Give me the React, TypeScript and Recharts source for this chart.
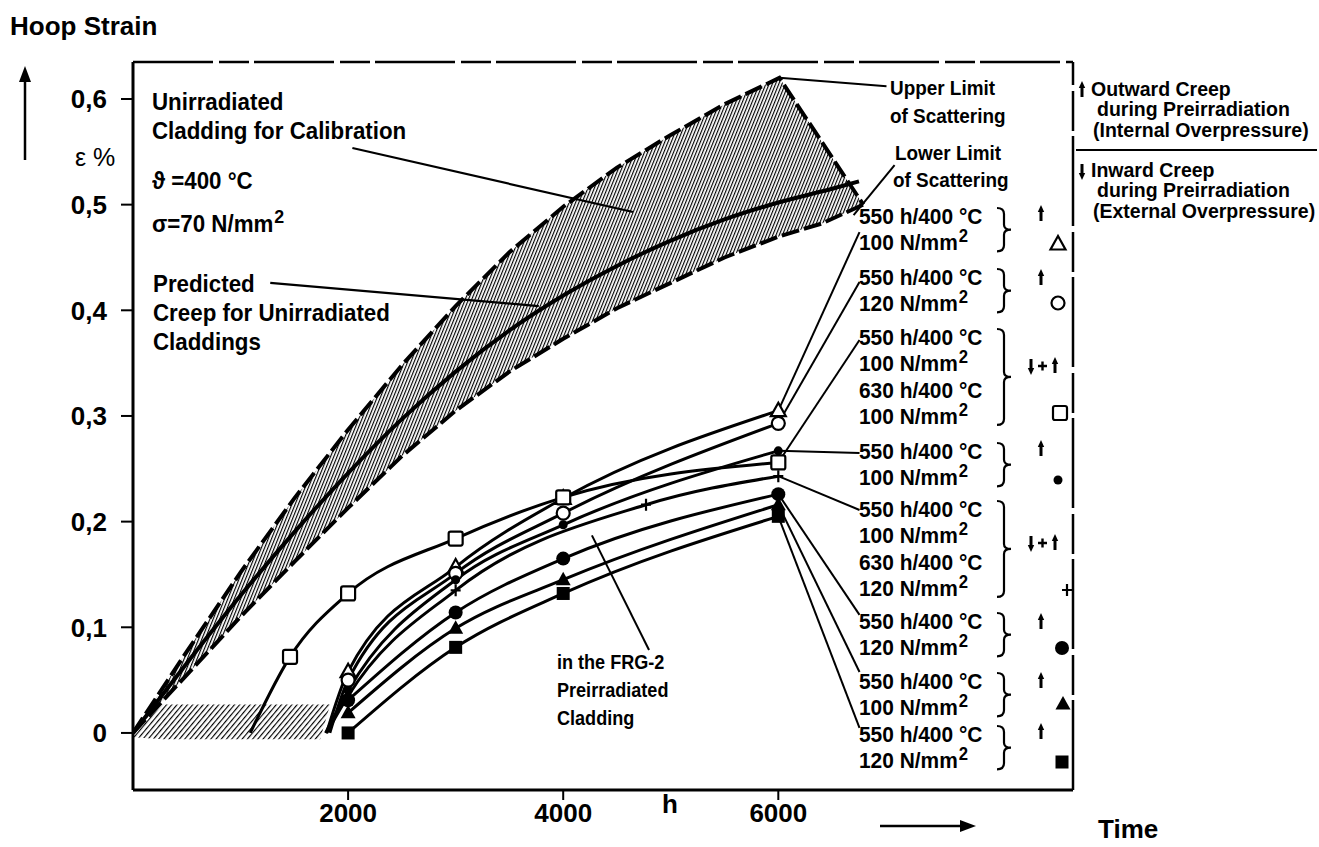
import { ComposedChart, Line, Area, XAxis, YAxis, ReferenceLine } from 'recharts'

const FONT = '"Liberation Sans", Arial, "DejaVu Sans", sans-serif'

// scatter band of the unirradiated cladding (time in h, strain in %)
const bandT = [0, 500, 1000, 1500, 2000, 2500, 3000, 3500, 4000, 4500, 5000, 5500, 6010, 6400, 6790]
const bandUpper = [0, 0.077, 0.152, 0.222, 0.287, 0.348, 0.404, 0.455, 0.498, 0.535, 0.566, 0.595, 0.62, 0.56, 0.5]
const bandLower = [0, 0.055, 0.11, 0.162, 0.213, 0.262, 0.305, 0.342, 0.373, 0.402, 0.426, 0.45, 0.47, 0.482, 0.5]

// predicted creep for unirradiated claddings
const predT = [0, 500, 1000, 1500, 2000, 2500, 3000, 3500, 4000, 4500, 5000, 5500, 6000, 6500, 6750]
const predY = [0, 0.066, 0.13, 0.19, 0.246, 0.297, 0.342, 0.381, 0.414, 0.442, 0.466, 0.486, 0.502, 0.515, 0.522]

// preirradiation zone near zero strain
const preT = [0, 280, 1740, 1830]
const preLo = [-0.004, -0.006, -0.006, 0.026]
const preHi = [0, 0.027, 0.027, 0.027]

// measured cladding series
const triOpenT = [1800, 2000, 3000, 4000, 6000]
const triOpenY = [0, 0.058, 0.157, 0.222, 0.305]
const circOpenT = [1830, 2000, 3000, 4000, 6000]
const circOpenY = [0, 0.05, 0.151, 0.208, 0.293]
const sqOpenT = [1090, 1460, 2000, 3000, 4000, 6000]
const sqOpenY = [0, 0.072, 0.132, 0.184, 0.223, 0.256]
const dotSmallT = [1790, 2000, 3000, 4000, 6000]
const dotSmallY = [0, 0.04, 0.145, 0.197, 0.267]
const plusT = [1800, 2000, 3000, 4770, 6000]
const plusY = [0, 0.035, 0.135, 0.216, 0.243]
const dotLargeT = [2000, 3000, 4000, 6000]
const dotLargeY = [0.031, 0.114, 0.165, 0.226]
const triFilledT = [2000, 3000, 4000, 6000]
const triFilledY = [0.019, 0.099, 0.145, 0.216]
const sqFilledT = [2000, 3000, 4000, 6000]
const sqFilledY = [0, 0.081, 0.132, 0.205]

const xTicks = [2000, 4000, 6000]
const yTicks = [0, 0.1, 0.2, 0.3, 0.4, 0.5, 0.6]
const X_MAX = 8740
const Y_MIN = -0.054
const Y_MAX = 0.635

// where the leader lines meet the legend texts (h, %)
const legendT = 6755
const legendY = [0.474, 0.4268, 0.3719, 0.265, 0.211, 0.1117, 0.0577, 0.0047]

type Shape = 'triOpen' | 'circOpen' | 'sqOpen' | 'dotSmall' | 'plus' | 'dotLarge' | 'triFilled' | 'sqFilled'

const series: { name: string; shape: Shape; t: number[]; y: number[]; foot: boolean }[] = [
  { name: 'triOpen', shape: 'triOpen', t: triOpenT, y: triOpenY, foot: true },
  { name: 'circOpen', shape: 'circOpen', t: circOpenT, y: circOpenY, foot: true },
  { name: 'sqOpen', shape: 'sqOpen', t: sqOpenT, y: sqOpenY, foot: true },
  { name: 'dotSmall', shape: 'dotSmall', t: dotSmallT, y: dotSmallY, foot: true },
  { name: 'plus', shape: 'plus', t: plusT, y: plusY, foot: true },
  { name: 'dotLarge', shape: 'dotLarge', t: dotLargeT, y: dotLargeY, foot: false },
  { name: 'triFilled', shape: 'triFilled', t: triFilledT, y: triFilledY, foot: false },
  { name: 'sqFilled', shape: 'sqFilled', t: sqFilledT, y: sqFilledY, foot: false },
]

function Marker({ shape, cx, cy }: { shape: Shape; cx: number; cy: number }) {
  switch (shape) {
    case 'triOpen':
      return <polygon points={`${cx},${cy - 8} ${cx - 7.5},${cy + 5.5} ${cx + 7.5},${cy + 5.5}`} fill="#fff" stroke="#000" strokeWidth={2.2} />
    case 'triFilled':
      return <polygon points={`${cx},${cy - 8} ${cx - 7.5},${cy + 5.5} ${cx + 7.5},${cy + 5.5}`} fill="#000" />
    case 'circOpen':
      return <circle cx={cx} cy={cy} r={6.5} fill="#fff" stroke="#000" strokeWidth={2.2} />
    case 'dotLarge':
      return <circle cx={cx} cy={cy} r={7} fill="#000" />
    case 'dotSmall':
      return <circle cx={cx} cy={cy} r={4.5} fill="#000" />
    case 'sqOpen':
      return <rect x={cx - 7} y={cy - 7} width={14} height={14} rx={2} fill="#fff" stroke="#000" strokeWidth={2.2} />
    case 'sqFilled':
      return <rect x={cx - 6.5} y={cy - 6.5} width={13} height={13} fill="#000" />
    case 'plus':
      return <path d={`M${cx - 5},${cy}H${cx + 5}M${cx},${cy - 6}V${cy + 6}`} stroke="#000" strokeWidth={2.2} />
  }
}

// small bold creep-direction arrow, like the printed glyph
function Arrow({ x, y, up }: { x: number; y: number; up: boolean }) {
  const d = up ? -1 : 1
  return (
    <g>
      <line x1={x} y1={y - 7 * d} x2={x} y2={y + 3 * d} stroke="#000" strokeWidth={3} />
      <polygon points={`${x},${y + 9 * d} ${x - 3.2},${y + 2 * d} ${x + 3.2},${y + 2 * d}`} fill="#000" />
    </g>
  )
}

function Txt({ x, y, size = 23, sx = 1, lh = 1.2, children, style }: { x: number; y: number; size?: number; sx?: number; lh?: number; children: any; style?: any }) {
  return (
    <div
      style={{
        position: 'absolute',
        left: x,
        top: y - size * ((lh - 1.117) / 2 + 0.56),
        fontSize: size,
        lineHeight: `${size * lh}px`,
        fontWeight: 700,
        whiteSpace: 'nowrap',
        transform: `scaleX(${sx})`,
        transformOrigin: 'left center',
        ...style,
      }}
    >
      {children}
    </div>
  )
}

const Sup = () => <span style={{ fontSize: '0.8em', position: 'relative', top: '-0.45em', marginLeft: 1, lineHeight: 0 }}>2</span>

function brace(x: number, y1: number, y2: number) {
  const ym = (y1 + y2) / 2
  return `M${x},${y1} Q${x + 7},${y1} ${x + 7},${y1 + 6} L${x + 7},${ym - 5} Q${x + 7},${ym} ${x + 14},${ym} Q${x + 7},${ym} ${x + 7},${ym + 5} L${x + 7},${y2 - 6} Q${x + 7},${y2} ${x},${y2}`
}

const ROW = 26.3

const legendRows: { lines: string[]; top: number; both: boolean; ay: number; shape: Shape; mx: number; my: number }[] = [
  { lines: ['550 h/400 °C', '100 N/mm'], top: 217, both: false, ay: 214, shape: 'triOpen', mx: 1058, my: 244 },
  { lines: ['550 h/400 °C', '120 N/mm'], top: 278, both: false, ay: 278, shape: 'circOpen', mx: 1058, my: 303 },
  { lines: ['550 h/400 °C', '100 N/mm', '630 h/400 °C', '100 N/mm'], top: 338, both: true, ay: 366, shape: 'sqOpen', mx: 1060, my: 413 },
  { lines: ['550 h/400 °C', '100 N/mm'], top: 452, both: false, ay: 449, shape: 'dotSmall', mx: 1058, my: 480 },
  { lines: ['550 h/400 °C', '100 N/mm', '630 h/400 °C', '120 N/mm'], top: 510, both: true, ay: 543, shape: 'plus', mx: 1067, my: 590 },
  { lines: ['550 h/400 °C', '120 N/mm'], top: 622, both: false, ay: 622, shape: 'dotLarge', mx: 1062, my: 648 },
  { lines: ['550 h/400 °C', '100 N/mm'], top: 682, both: false, ay: 681, shape: 'triFilled', mx: 1063, my: 704 },
  { lines: ['550 h/400 °C', '120 N/mm'], top: 735, both: false, ay: 732, shape: 'sqFilled', mx: 1062, my: 762 },
]

export default function App() {
  const bandData = bandT.map((t, i) => ({ t, range: [bandLower[i], bandUpper[i]] }))
  const preData = preT.map((t, i) => ({ t, range: [preLo[i], preHi[i]] }))
  const predData = predT.map((t, i) => ({ t, v: predY[i] }))
  const axisStyle = { stroke: '#000', strokeWidth: 3 }
  const tickStyle = { fontSize: 26, fontWeight: 700, fill: '#000', fontFamily: FONT }

  return (
    <div style={{ position: 'absolute', left: 0, top: 0, width: 1319, height: 847, background: '#fff', fontFamily: FONT, color: '#000', overflow: 'hidden' }}>
      <ComposedChart width={1319} height={847} margin={{ top: 62, right: 246, bottom: 17, left: 73 }}>
        <defs>
          <pattern id="bandHatch" width="3" height="3" patternUnits="userSpaceOnUse" patternTransform="rotate(22)">
            <rect width="3" height="3" fill="#fff" />
            <line x1="0" y1="0" x2="0" y2="3" stroke="#000" strokeWidth="2.3" />
          </pattern>
          <pattern id="preHatch" width="4" height="4" patternUnits="userSpaceOnUse" patternTransform="rotate(40)">
            <rect width="4" height="4" fill="#fff" />
            <line x1="0" y1="0" x2="0" y2="4" stroke="#000" strokeWidth="2.3" />
          </pattern>
        </defs>
        <XAxis
          dataKey="t"
          type="number"
          domain={[0, X_MAX]}
          allowDataOverflow
          ticks={xTicks}
          height={40}
          tickSize={10}
          tickMargin={4}
          axisLine={axisStyle}
          tickLine={{ stroke: '#000', strokeWidth: 2 }}
          tick={tickStyle}
        />
        <YAxis
          type="number"
          domain={[Y_MIN, Y_MAX]}
          allowDataOverflow
          ticks={yTicks}
          width={60}
          tickSize={12}
          tickMargin={14}
          axisLine={axisStyle}
          tickLine={{ stroke: '#000', strokeWidth: 2 }}
          tick={tickStyle}
          tickFormatter={(v: number) => (v === 0 ? '0' : v.toFixed(1).replace('.', ','))}
        />
        <ReferenceLine y={Y_MAX} stroke="#000" strokeWidth={2.5} strokeDasharray="80 6 30 5" />
        <ReferenceLine x={X_MAX} stroke="#000" strokeWidth={2.5} strokeDasharray="90 5 40 6" />
        <Area
          data={preData}
          dataKey="range"
          type="linear"
          stroke="none"
          fill="url(#preHatch)"
          fillOpacity={1}
          isAnimationActive={false}
          dot={false}
          activeDot={false}
        />
        <Area
          data={bandData}
          dataKey="range"
          type="linear"
          stroke="#000"
          strokeWidth={4}
          strokeDasharray="18 5"
          fill="url(#bandHatch)"
          fillOpacity={1}
          isAnimationActive={false}
          dot={false}
          activeDot={false}
        />
        <Line
          data={predData}
          dataKey="v"
          type="monotone"
          stroke="#000"
          strokeWidth={4}
          dot={false}
          activeDot={false}
          isAnimationActive={false}
        />
        {/* leader lines of the annotations */}
        <ReferenceLine segment={[{ x: 6010, y: 0.62 }, { x: 7006, y: 0.612 }]} stroke="#000" strokeWidth={2} />
        <ReferenceLine segment={[{ x: 6700, y: 0.49 }, { x: 7081, y: 0.5375 }]} stroke="#000" strokeWidth={2} />
        <ReferenceLine segment={[{ x: 2040, y: 0.5536 }, { x: 4649, y: 0.493 }]} stroke="#000" strokeWidth={2.2} />
        <ReferenceLine segment={[{ x: 1276, y: 0.4259 }, { x: 3773, y: 0.404 }]} stroke="#000" strokeWidth={2.2} />
        <ReferenceLine segment={[{ x: 4267, y: 0.187 }, { x: 4798, y: 0.0785 }]} stroke="#000" strokeWidth={2} />
        {series.map((s, k) => (
          <ReferenceLine
            key={`lead-${s.name}`}
            segment={[{ x: 6000, y: s.y[s.y.length - 1] }, { x: legendT, y: legendY[k] }]}
            stroke="#000"
            strokeWidth={2}
          />
        ))}
        {series.map((s) => (
          <Line
            key={s.name}
            data={s.t.map((t, i) => ({ t, v: s.y[i] }))}
            dataKey="v"
            type="monotone"
            stroke="#000"
            strokeWidth={3}
            activeDot={false}
            isAnimationActive={false}
            dot={(p: any) =>
              p.index === 0 && s.foot ? (
                <g key={`${s.name}-${p.index}`} />
              ) : (
                <g key={`${s.name}-${p.index}`}>
                  <Marker shape={s.shape} cx={p.cx} cy={p.cy} />
                </g>
              )
            }
          />
        ))}
      </ComposedChart>

      <svg width={1319} height={847} style={{ position: 'absolute', left: 0, top: 0, pointerEvents: 'none' }}>
        <line x1={25} y1={160} x2={25} y2={78} stroke="#000" strokeWidth={2.5} />
        <polygon points="25,66 19,82 31,82" fill="#000" />
        <line x1={880} y1={826} x2={962} y2={826} stroke="#000" strokeWidth={2.5} />
        <polygon points="976,826 960,820 960,832" fill="#000" />
        <line x1={1076} y1={150} x2={1317} y2={150} stroke="#000" strokeWidth={2} />
        <Arrow x={1082} y={90} up />
        <Arrow x={1082} y={171} up={false} />
        {legendRows.map((r, i) => (
          <g key={`br-${i}`}>
            <path d={brace(997, r.top - 9, r.top + (r.lines.length - 1) * ROW + 8)} stroke="#000" strokeWidth={2.2} fill="none" />
            {r.both ? (
              <g>
                <Arrow x={1031} y={r.ay} up={false} />
                <path d={`M${1038},${r.ay}H${1047}M${1042.5},${r.ay - 4.5}V${r.ay + 4.5}`} stroke="#000" strokeWidth={2.4} />
                <Arrow x={1055} y={r.ay} up />
              </g>
            ) : (
              <Arrow x={1041} y={r.ay} up />
            )}
            <Marker shape={r.shape} cx={r.mx} cy={r.my} />
          </g>
        ))}
      </svg>

      <Txt x={10} y={27} size={26}>Hoop Strain</Txt>
      <Txt x={75} y={157} size={25} style={{ fontWeight: 400 }}>ε %</Txt>

      <Txt x={152} y={102} size={24} sx={0.93}>Unirradiated</Txt>
      <Txt x={152} y={131} size={24} sx={0.93}>Cladding for Calibration</Txt>
      <Txt x={152} y={181} size={24} sx={0.93}>ϑ =400 °C</Txt>
      <Txt x={152} y={224} size={24} sx={0.93}>σ=70 N/mm<Sup /></Txt>
      <Txt x={153} y={284} size={24} sx={0.93}>Predicted</Txt>
      <Txt x={153} y={313} size={24} sx={0.93}>Creep for Unirradiated</Txt>
      <Txt x={153} y={342} size={24} sx={0.93}>Claddings</Txt>

      <Txt x={557} y={662} size={21} sx={0.86}>in the FRG-2</Txt>
      <Txt x={557} y={690} size={21} sx={0.86}>Preirradiated</Txt>
      <Txt x={557} y={718} size={21} sx={0.86}>Cladding</Txt>

      <Txt x={890} y={88} size={21} sx={0.9}>Upper Limit</Txt>
      <Txt x={890} y={116} size={21} sx={0.9}>of Scattering</Txt>
      <Txt x={895} y={153} size={21} sx={0.9}>Lower Limit</Txt>
      <Txt x={893} y={180} size={21} sx={0.9}>of Scattering</Txt>

      <Txt x={1091} y={90} size={19.5}>Outward Creep</Txt>
      <Txt x={1097} y={110} size={19.5}>during Preirradiation</Txt>
      <Txt x={1093} y={131} size={19.5}>(Internal Overpressure)</Txt>
      <Txt x={1091} y={171} size={19.5}>Inward Creep</Txt>
      <Txt x={1097} y={191} size={19.5}>during Preirradiation</Txt>
      <Txt x={1093} y={212} size={19.5}>(External Overpressure)</Txt>

      {legendRows.map((r, i) => (
        <div key={`lg-${i}`}>
          {r.lines.map((l, j) => (
            <Txt key={j} x={859} y={r.top + j * ROW} size={22} sx={0.95} lh={1}>
              {l}
              {l.endsWith('mm') ? <Sup /> : null}
            </Txt>
          ))}
        </div>
      ))}

      <Txt x={662} y={805} size={26}>h</Txt>
      <Txt x={1098} y={830} size={26}>Time</Txt>
    </div>
  )
}
